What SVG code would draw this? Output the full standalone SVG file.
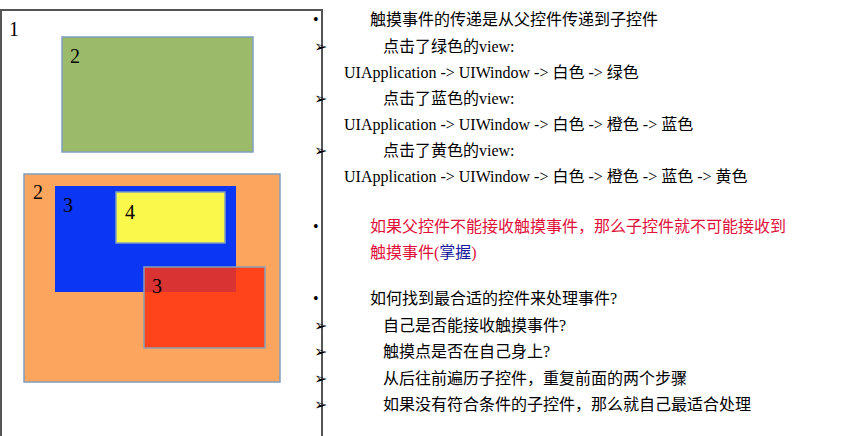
<svg xmlns="http://www.w3.org/2000/svg" width="853" height="436" viewBox="0 0 853 436">
<style>
.t{font-family:"Liberation Serif","Noto Sans CJK SC",serif;font-size:16px;fill:#000}
.n{font-family:"Liberation Serif",serif;font-size:20px;fill:#000}
.b{stroke:#7f9fbf;stroke-width:1.5}
</style>
<rect width="853" height="436" fill="#fff"/>
<g id="window"><path d="M1 436V10H322V436" fill="#fff" stroke="#555" stroke-width="2"/><text class="n" x="9" y="36">1</text></g>
<g id="green"><rect class="b" x="62" y="37" width="191" height="115" fill="#9bbb6b"/><text class="n" x="70" y="63">2</text></g>
<g id="orange"><rect class="b" x="24" y="174" width="256" height="208" fill="#fca55e"/><text class="n" x="33" y="199">2</text></g>
<g id="blue"><rect x="55" y="186" width="181" height="106" fill="#0a36f4"/><text class="n" x="63" y="212">3</text></g>
<g id="yellow"><rect class="b" x="116" y="192" width="109" height="51" fill="#fbf84c"/><text class="n" x="125" y="219">4</text></g>
<g id="red"><rect x="144" y="267" width="121" height="81" fill="#ff3311" fill-opacity="0.85" stroke="#8a9fb5" stroke-width="1.5"/><text class="n" x="152" y="293">3</text></g>
<g id="text" class="t">
<text x="313" y="25">•</text><text x="370" y="25">触摸事件的传递是从父控件传递到子控件</text>
<text x="314" y="52">➢</text><text x="383" y="52">点击了绿色的view:</text>
<text x="344" y="78">UIApplication -&gt; UIWindow -&gt; 白色 -&gt; 绿色</text>
<text x="314" y="104">➢</text><text x="383" y="104">点击了蓝色的view:</text>
<text x="344" y="130">UIApplication -&gt; UIWindow -&gt; 白色 -&gt; 橙色 -&gt; 蓝色</text>
<text x="314" y="156">➢</text><text x="383" y="156">点击了黄色的view:</text>
<text x="344" y="182">UIApplication -&gt; UIWindow -&gt; 白色 -&gt; 橙色 -&gt; 蓝色 -&gt; 黄色</text>
<text x="313" y="232">•</text><text x="370" y="232" fill="#e0103a">如果父控件不能接收触摸事件，那么子控件就不可能接收到</text>
<text x="370" y="258" fill="#e0103a">触摸事件(<tspan fill="#1a1aa0">掌握</tspan>)</text>
<text x="313" y="304">•</text><text x="370" y="304">如何找到最合适的控件来处理事件?</text>
<text x="314" y="331">➢</text><text x="383" y="331">自己是否能接收触摸事件?</text>
<text x="314" y="357">➢</text><text x="383" y="357">触摸点是否在自己身上?</text>
<text x="314" y="384">➢</text><text x="383" y="384">从后往前遍历子控件，重复前面的两个步骤</text>
<text x="314" y="410">➢</text><text x="383" y="410">如果没有符合条件的子控件，那么就自己最适合处理</text>
</g>
</svg>
